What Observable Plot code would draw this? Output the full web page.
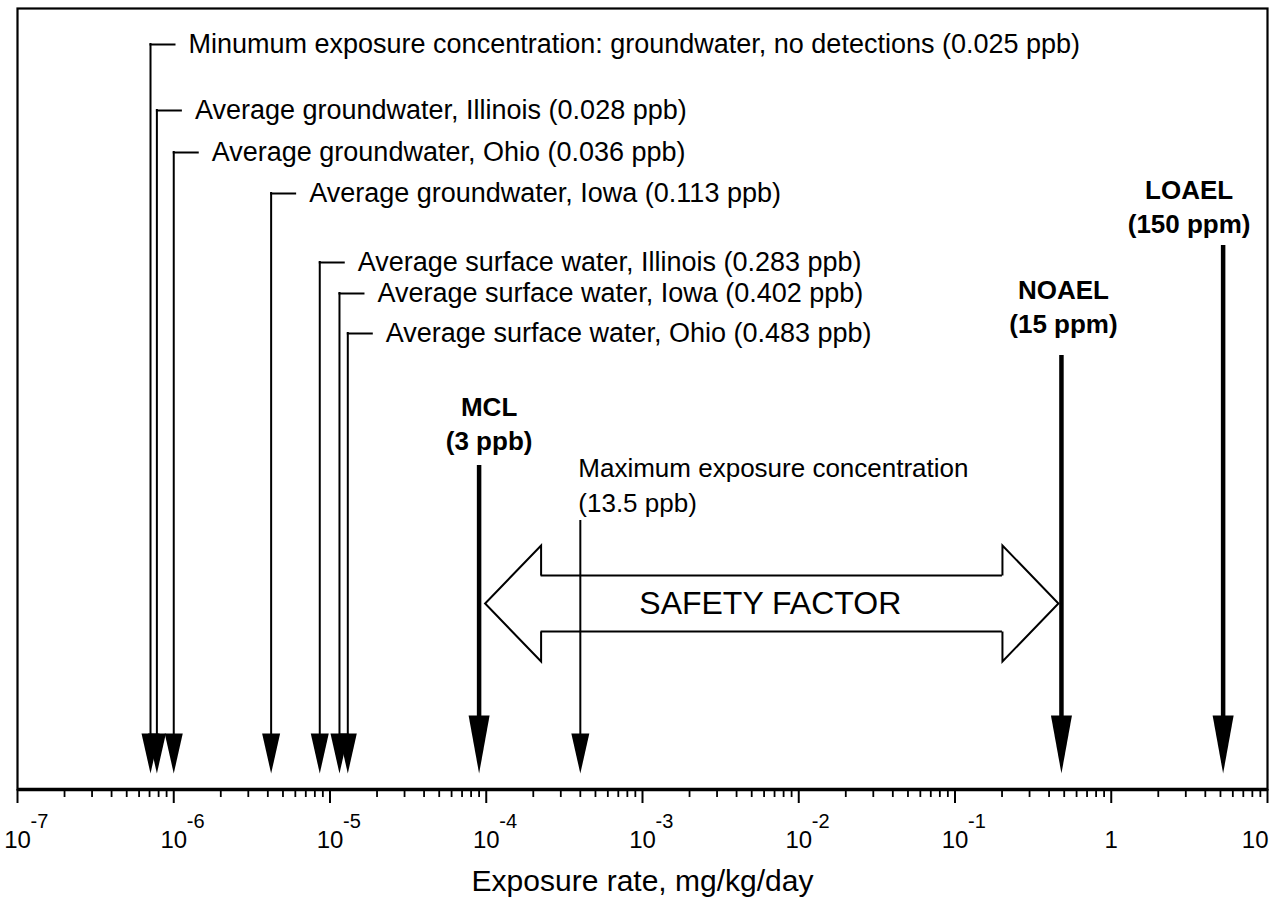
<!DOCTYPE html>
<html>
<head>
<meta charset="utf-8">
<script src="https://cdn.jsdelivr.net/npm/d3@7"></script>
<script src="https://cdn.jsdelivr.net/npm/@observablehq/plot@0.6"></script>
<style>
  html, body { margin: 0; padding: 0; background: #fff; }
  #chart svg { display: block; }
</style>
</head>
<body>
<div id="chart"></div>
<script>
// ---------------- DATA ----------------
const sourceLabels = [
  "Minumum exposure concentration: groundwater, no detections (0.025 ppb)",
  "Average groundwater, Illinois (0.028 ppb)",
  "Average groundwater, Ohio (0.036 ppb)",
  "Average groundwater, Iowa (0.113 ppb)",
  "Average surface water, Illinois (0.283 ppb)",
  "Average surface water, Iowa (0.402 ppb)",
  "Average surface water, Ohio (0.483 ppb)"
];
const sourceRates = [7.1e-7, 7.8e-7, 1.0e-6, 4.2e-6, 8.6e-6, 1.15e-5, 1.3e-5];

const benchmarkNames = ["MCL", "NOAEL", "LOAEL"];
const benchmarkValues = ["(3 ppb)", "(15 ppm)", "(150 ppm)"];
const benchmarkRates = [9.0e-5, 0.48, 5.2];

const maxLines = ["Maximum exposure concentration", "(13.5 ppb)"];
const maxRate = 4.0e-4;

const tickValues = [1e-7, 1e-6, 1e-5, 1e-4, 1e-3, 1e-2, 1e-1, 1, 10];
const tickBases = ["10", "10", "10", "10", "10", "10", "10", "1", "10"];
const tickExponents = ["-7", "-6", "-5", "-4", "-3", "-2", "-1", "", ""];
const minorMultipliers = [2, 3, 4, 5, 6, 7, 8, 9];

const axisTitle = "Exposure rate, mg/kg/day";
const safetyText = "SAFETY FACTOR";

// ---------------- LAYOUT (pixel rows, not data) ----------------
const AXIS_PX = 789, TOP_PX = 8;
const H = px => AXIS_PX - px;              // height above the axis line
const sourceRowPx = [44, 110, 152, 193, 262, 293, 333];
const benchBaselinePx = [449, 332, 232];
const benchShaftTopPx = [465, 355, 245];
const benchLabelDx = [10, 2, -34];
const maxBaselinePx = 511;
const maxShaftTopPx = 520;
const TIP = 16;                      // arrow tip height above axis
const thinHead = {w: 18, h: 40};
const boldHead = {w: 21, h: 58};
const safetyCenterPx = 603;
const SHAFT_HALF = 28, HEAD_HALF = 58, HEAD_LEN = 56;

const ff = "'Liberation Sans', Arial, Helvetica, sans-serif";

// ---------------- DERIVED TABLES ----------------
const sources = sourceLabels.map((label, i) => ({label, rate: sourceRates[i], row: H(sourceRowPx[i])}));
const benchmarks = benchmarkNames.map((name, i) => ({
  name, value: benchmarkValues[i], rate: benchmarkRates[i],
  text: name + "\n" + benchmarkValues[i],
  textY: H(benchBaselinePx[i]), shaftTop: H(benchShaftTopPx[i]), dx: benchLabelDx[i]
}));
const maxRow = [{rate: maxRate, text: maxLines.join("\n"), textY: H(maxBaselinePx), shaftTop: H(maxShaftTopPx)}];
const ticks = tickValues.map((v, i) => ({v, base: tickBases[i], exp: tickExponents[i]}));
const minorTicks = tickValues.slice(0, -1).flatMap(d => minorMultipliers.map(m => m * d));

const mcl = benchmarkRates[0], noael = benchmarkRates[1];

// custom symbols
const triDown = (w, h) => ({draw(ctx) { ctx.moveTo(-w / 2, -h / 2); ctx.lineTo(w / 2, -h / 2); ctx.lineTo(0, h / 2); ctx.closePath(); }});
const leader = {draw(ctx) { ctx.moveTo(0, 0); ctx.lineTo(24, 0); }};
const headShape = s => ({draw(ctx) {
  ctx.moveTo(s * HEAD_LEN, -SHAFT_HALF); ctx.lineTo(s * HEAD_LEN, -HEAD_HALF); ctx.lineTo(0, 0);
  ctx.lineTo(s * HEAD_LEN, HEAD_HALF); ctx.lineTo(s * HEAD_LEN, SHAFT_HALF);
}});

const safetyY = H(safetyCenterPx);

const chart = Plot.plot({
  width: 1283,
  height: 901,
  marginLeft: 17,
  marginRight: 16,
  marginTop: TOP_PX,
  marginBottom: 901 - AXIS_PX,
  style: {fontFamily: ff, background: "white", color: "black", overflow: "visible"},
  x: {type: "log", domain: [1e-7, 10], axis: null},
  y: {type: "linear", domain: [0, AXIS_PX - TOP_PX], axis: null},
  marks: [
    Plot.frame({stroke: "black", strokeWidth: 2.2}),
    // axis
    Plot.ruleX(minorTicks, {x: d => d, y1: 0, y2: -8, stroke: "black", strokeWidth: 1.8}),
    Plot.ruleX(tickValues, {x: d => d, y1: 0, y2: -14, stroke: "black", strokeWidth: 2}),
    Plot.ruleY([0], {stroke: "black", strokeWidth: 3.5}),
    Plot.text(ticks.slice(0, -1), {x: "v", y: H(847), text: "base", fontSize: 24, lineAnchor: "bottom", textAnchor: "middle", fill: "black"}),
    Plot.text(ticks.slice(-1), {x: "v", y: H(847), text: "base", fontSize: 24, lineAnchor: "bottom", textAnchor: "end", dx: 1, fill: "black"}),
    Plot.text(ticks.filter(d => d.exp), {x: "v", y: H(827), text: "exp", fontSize: 20, lineAnchor: "bottom", textAnchor: "start", dx: 13, fill: "black"}),
    Plot.text([axisTitle], {text: d => d, frameAnchor: "bottom", dy: 101, lineAnchor: "bottom", fontSize: 30, fill: "black"}),

    // source arrows (thin)
    Plot.ruleX(sources, {x: "rate", y1: TIP + thinHead.h - 2, y2: "row", stroke: "black", strokeWidth: 2, strokeLinecap: "square"}),
    Plot.dot(sources, {x: "rate", y: TIP + thinHead.h / 2, symbol: triDown(thinHead.w, thinHead.h), fill: "black", stroke: "none"}),
    Plot.dot(sources, {x: "rate", y: "row", symbol: leader, fill: "none", stroke: "black", strokeWidth: 2, strokeLinecap: "square"}),
    Plot.text(sources, {x: "rate", y: "row", text: "label", dx: 38, textAnchor: "start", lineAnchor: "middle", fontSize: 27, fill: "black"}),

    // maximum exposure (thin)
    Plot.ruleX(maxRow, {x: "rate", y1: TIP + thinHead.h - 2, y2: "shaftTop", stroke: "black", strokeWidth: 2}),
    Plot.dot(maxRow, {x: "rate", y: TIP + thinHead.h / 2, symbol: triDown(thinHead.w, thinHead.h), fill: "black", stroke: "none"}),
    Plot.text(maxRow, {x: "rate", y: "textY", text: "text", dx: -2, textAnchor: "start", lineAnchor: "bottom", lineHeight: 1.31, fontSize: 26, fill: "black"}),

    // benchmarks (bold)
    Plot.ruleX(benchmarks, {x: "rate", y1: TIP + boldHead.h - 2, y2: "shaftTop", stroke: "black", strokeWidth: 4.5}),
    Plot.dot(benchmarks, {x: "rate", y: TIP + boldHead.h / 2, symbol: triDown(boldHead.w, boldHead.h), fill: "black", stroke: "none"}),
    ...benchmarks.map(b => Plot.text([b], {x: "rate", y: "textY", text: "text", dx: b.dx, textAnchor: "middle", lineAnchor: "bottom", lineHeight: 1.3, fontSize: 26, fontWeight: "bold", fill: "black"})),

    // safety factor double arrow (hollow), spanning MCL to NOAEL
    Plot.ruleY([safetyY + SHAFT_HALF, safetyY - SHAFT_HALF], {y: d => d, x1: mcl, x2: noael, insetLeft: 6 + HEAD_LEN, insetRight: 3 + HEAD_LEN, stroke: "black", strokeWidth: 2}),
    Plot.dot([mcl], {x: d => d, y: safetyY, dx: 6, symbol: headShape(1), fill: "none", stroke: "black", strokeWidth: 2}),
    Plot.dot([noael], {x: d => d, y: safetyY, dx: -3, symbol: headShape(-1), fill: "none", stroke: "black", strokeWidth: 2}),
    Plot.text([safetyText], {text: d => d, x: Math.sqrt(mcl * noael), y: safetyY, lineAnchor: "middle", textAnchor: "middle", fontSize: 32, fill: "black"})
  ]
});

document.getElementById("chart").appendChild(chart);
</script>
</body>
</html>
